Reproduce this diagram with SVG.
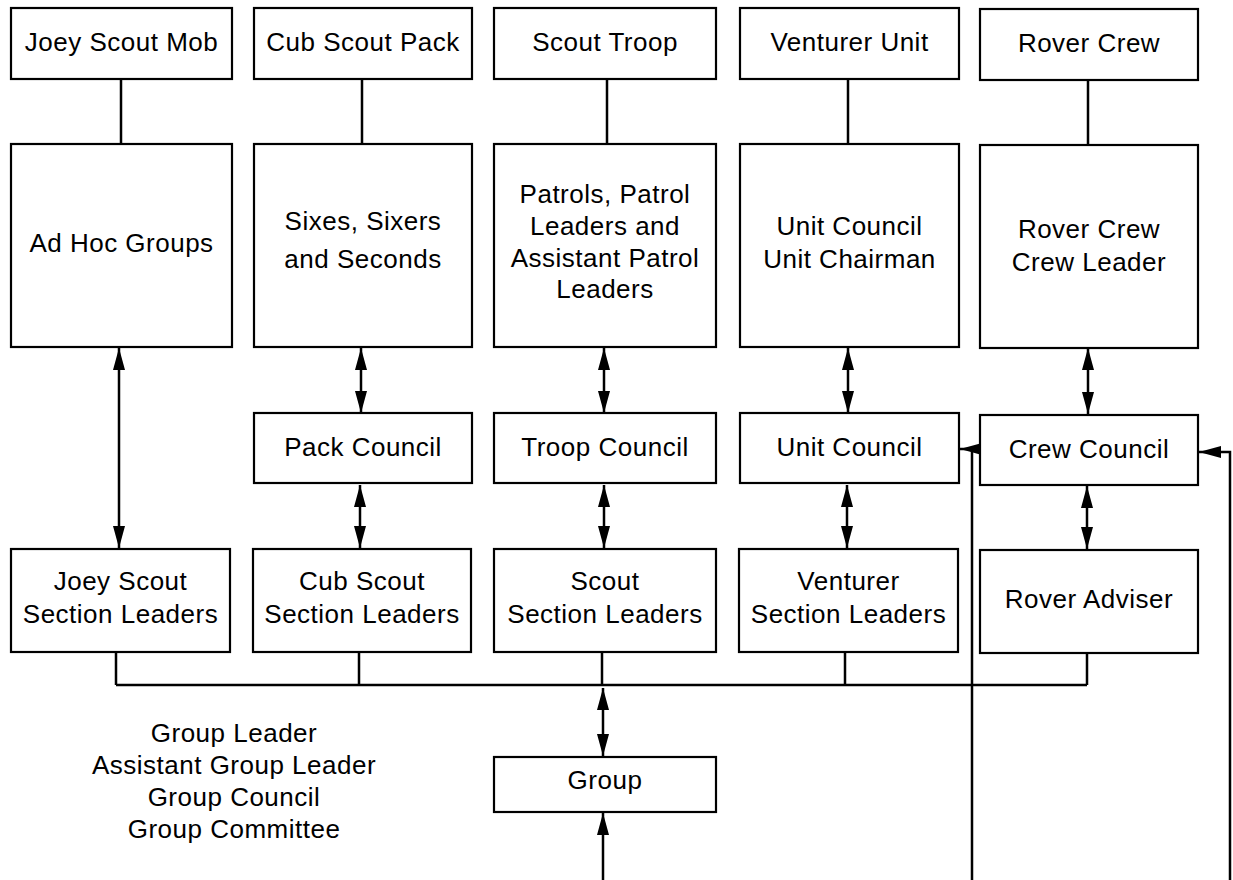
<svg xmlns="http://www.w3.org/2000/svg" width="1233" height="880" viewBox="0 0 1233 880">
<style>
.box{fill:#fff;stroke:#000;stroke-width:2.2}
.t{font-family:"Liberation Sans",Arial,Helvetica,sans-serif;font-size:26px;letter-spacing:0.5px;fill:#000;text-anchor:middle}
.ln{fill:none;stroke:#000;stroke-width:2.5}
.ar{fill:none;stroke:#000;stroke-width:2.5;marker-end:url(#ah)}
.dar{fill:none;stroke:#000;stroke-width:2.5;marker-start:url(#ah);marker-end:url(#ah)}
</style>
<defs>
<marker id="ah" viewBox="0 0 22 14" markerWidth="22" markerHeight="14" refX="22" refY="7" orient="auto-start-reverse" markerUnits="userSpaceOnUse">
<path d="M0,1 L22,7 L0,13 Z" fill="#000"/>
</marker>
</defs>
<rect width="1233" height="880" fill="#fff"/>

<g id="connectors">
<path class="ln" d="M121,79 V144 M362,79 V144 M607,79 V144 M848,79 V144 M1088,79 V144"/>
<path class="dar" d="M119,348 V548"/>
<path class="dar" d="M361,348 V413"/>
<path class="dar" d="M604,348 V413"/>
<path class="dar" d="M848,348 V413"/>
<path class="dar" d="M1088,348 V414"/>
<path class="dar" d="M360,485 V548"/>
<path class="dar" d="M604,485 V548"/>
<path class="dar" d="M847,485 V548"/>
<path class="dar" d="M1087,486 V549"/>
<path class="ln" d="M116,652 V685 M359,652 V685 M602,652 V685 M845,652 V685 M1087,653 V685 M116,685 H1087"/>
<path class="dar" d="M603,688 V756"/>
<path class="ar" d="M603,880 V813"/>
<path class="ar" d="M972,880 V449 H960"/>
<path class="ar" d="M1230,880 V452 H1199"/>
</g>

<g id="joey-mob"><rect class="box" x="11" y="8" width="221" height="71"/><text class="t" x="121.5" y="51">Joey Scout Mob</text></g>
<g id="cub-pack"><rect class="box" x="254" y="8" width="218" height="71"/><text class="t" x="363" y="51">Cub Scout Pack</text></g>
<g id="scout-troop"><rect class="box" x="494" y="8" width="222" height="71"/><text class="t" x="605" y="51">Scout Troop</text></g>
<g id="venturer-unit"><rect class="box" x="740" y="8" width="219" height="71"/><text class="t" x="849.5" y="51">Venturer Unit</text></g>
<g id="rover-crew"><rect class="box" x="980" y="9" width="218" height="71"/><text class="t" x="1089" y="52">Rover Crew</text></g>

<g id="ad-hoc"><rect class="box" x="11" y="144" width="221" height="203"/><text class="t" x="121.5" y="252">Ad Hoc Groups</text></g>
<g id="sixes"><rect class="box" x="254" y="144" width="218" height="203"/><text class="t" x="363"><tspan x="363" y="230">Sixes, Sixers</tspan><tspan x="363" y="268">and Seconds</tspan></text></g>
<g id="patrols"><rect class="box" x="494" y="144" width="222" height="203"/><text class="t" x="605"><tspan x="605" y="203">Patrols, Patrol</tspan><tspan x="605" y="235">Leaders and</tspan><tspan x="605" y="267">Assistant Patrol</tspan><tspan x="605" y="298">Leaders</tspan></text></g>
<g id="unit-chair"><rect class="box" x="740" y="144" width="219" height="203"/><text class="t" x="849.5"><tspan x="849.5" y="235">Unit Council</tspan><tspan x="849.5" y="268">Unit Chairman</tspan></text></g>
<g id="crew-leader"><rect class="box" x="980" y="145" width="218" height="203"/><text class="t" x="1089"><tspan x="1089" y="238">Rover Crew</tspan><tspan x="1089" y="271">Crew Leader</tspan></text></g>

<g id="pack-council"><rect class="box" x="254" y="413" width="218" height="70"/><text class="t" x="363" y="456">Pack Council</text></g>
<g id="troop-council"><rect class="box" x="494" y="413" width="222" height="70"/><text class="t" x="605" y="456">Troop Council</text></g>
<g id="unit-council"><rect class="box" x="740" y="413" width="219" height="70"/><text class="t" x="849.5" y="456">Unit Council</text></g>
<g id="crew-council"><rect class="box" x="980" y="415" width="218" height="70"/><text class="t" x="1089" y="458">Crew Council</text></g>

<g id="joey-leaders"><rect class="box" x="11" y="549" width="219" height="103"/><text class="t" x="120.5"><tspan x="120.5" y="590">Joey Scout</tspan><tspan x="120.5" y="623">Section Leaders</tspan></text></g>
<g id="cub-leaders"><rect class="box" x="253" y="549" width="218" height="103"/><text class="t" x="362"><tspan x="362" y="590">Cub Scout</tspan><tspan x="362" y="623">Section Leaders</tspan></text></g>
<g id="scout-leaders"><rect class="box" x="494" y="549" width="222" height="103"/><text class="t" x="605"><tspan x="605" y="590">Scout</tspan><tspan x="605" y="623">Section Leaders</tspan></text></g>
<g id="venturer-leaders"><rect class="box" x="739" y="549" width="219" height="103"/><text class="t" x="848.5"><tspan x="848.5" y="590">Venturer</tspan><tspan x="848.5" y="623">Section Leaders</tspan></text></g>
<g id="rover-adviser"><rect class="box" x="980" y="550" width="218" height="103"/><text class="t" x="1089" y="608">Rover Adviser</text></g>

<g id="group"><rect class="box" x="494" y="757" width="222" height="55"/><text class="t" x="605" y="789">Group</text></g>

<g id="group-roles"><text class="t" x="234"><tspan x="234" y="742">Group Leader</tspan><tspan x="234" y="774">Assistant Group Leader</tspan><tspan x="234" y="806">Group Council</tspan><tspan x="234" y="838">Group Committee</tspan></text></g>
</svg>
